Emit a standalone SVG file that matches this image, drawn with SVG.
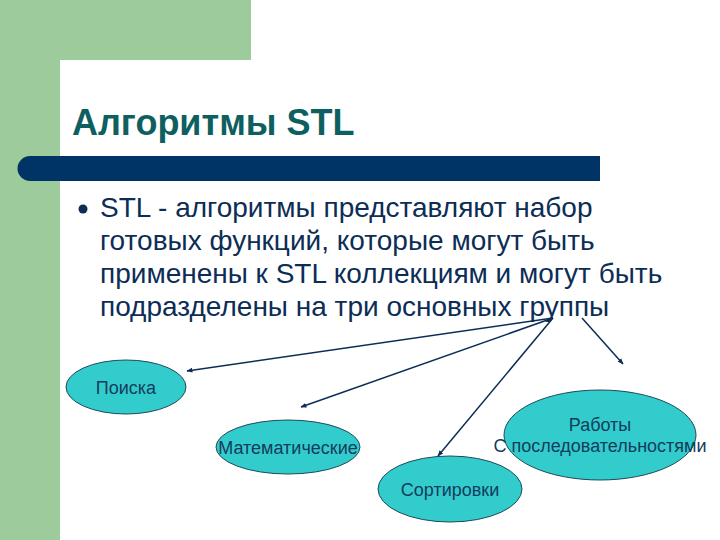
<svg xmlns="http://www.w3.org/2000/svg" width="720" height="540" viewBox="0 0 720 540">
<defs>
<style>
.node ellipse{fill:#33cccc;stroke:#1d4a5a;stroke-width:1}
.node text{font-family:"Liberation Sans",Arial,sans-serif;font-size:18px;fill:#123c5c;text-anchor:middle}
.body{font-family:"Liberation Sans",Arial,sans-serif;font-size:28px;fill:#0c2d55}
.conn line{stroke:#0c2d55;stroke-width:1.5;marker-end:url(#ah)}
</style>
<marker id="ah" viewBox="0 0 10 10" refX="9" refY="5" markerWidth="6" markerHeight="6" orient="auto" markerUnits="userSpaceOnUse">
<path d="M0,1 L10,5 L0,9 Z" fill="#0c2d55"/>
</marker>
</defs>
<rect x="0" y="0" width="720" height="540" fill="#ffffff"/>
<g id="background">
<rect x="0" y="0" width="251" height="60" fill="#9ecb9b"/>
<rect x="0" y="0" width="60" height="540" fill="#9ecb9b"/>
<rect x="60" y="60" width="700" height="520" rx="20" ry="20" fill="#ffffff"/>
<path d="M30,156 H600 V181 H30 A12.5,12.5 0 0 1 30,156 Z" fill="#003466"/>
</g>
<g id="title">
<text x="72" y="135" font-family="'Liberation Sans',Arial,sans-serif" font-size="36" font-weight="bold" fill="#0e5f5f">Алгоритмы STL</text>
</g>
<g id="bullet">
<circle cx="83" cy="209" r="4.5" fill="#0c2d55"/>
<text class="body" x="100" y="217">STL - алгоритмы представляют набор</text>
<text class="body" x="100" y="250">готовых функций, которые могут быть</text>
<text class="body" x="100" y="283">применены к STL коллекциям и могут быть</text>
<text class="body" x="100" y="316">подразделены на три основных группы</text>
</g>
<g id="connectors" class="conn">
<line x1="553" y1="318" x2="187" y2="371"/>
<line x1="553" y1="318" x2="301" y2="407"/>
<line x1="553" y1="318" x2="438" y2="456"/>
<line x1="582" y1="318" x2="623" y2="364"/>
</g>
<g id="node-poiska" class="node">
<ellipse cx="126" cy="387" rx="60" ry="27"/>
<text x="126" y="394">Поиска</text>
</g>
<g id="node-matem" class="node">
<ellipse cx="288" cy="447" rx="72" ry="27"/>
<text x="288" y="454">Математические</text>
</g>
<g id="node-sort" class="node">
<ellipse cx="450" cy="489" rx="72" ry="33"/>
<text x="450" y="496">Сортировки</text>
</g>
<g id="node-rabota" class="node">
<ellipse cx="600" cy="435" rx="96" ry="45"/>
<text x="600" y="431">Работы</text>
<text x="600" y="452">С последовательностями</text>
</g>
</svg>
